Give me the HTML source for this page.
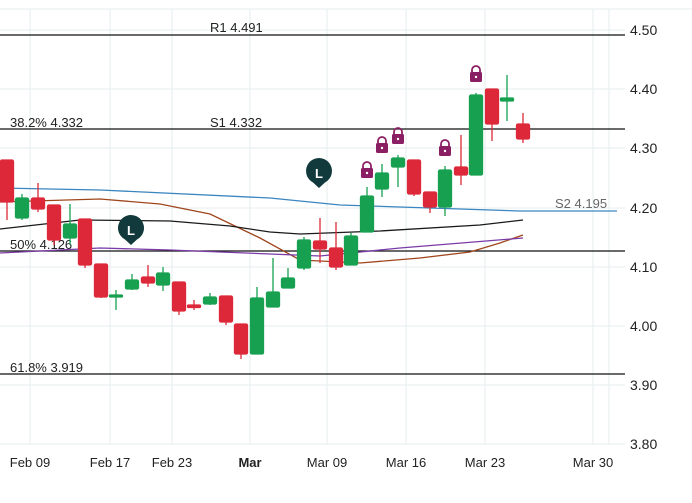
<!DOCTYPE html><html><head><style>body{margin:0;background:#fff}svg{display:block;font-family:"Liberation Sans",sans-serif}</style></head><body>
<svg width="692" height="503" viewBox="0 0 692 503">
<line x1="0" y1="9" x2="692" y2="9" stroke="#e6eeee"/>
<g stroke="#e4eeee" stroke-width="1">
<line x1="0" y1="30" x2="625" y2="30"/><line x1="0" y1="89" x2="625" y2="89"/><line x1="0" y1="148" x2="625" y2="148"/><line x1="0" y1="208" x2="625" y2="208"/><line x1="0" y1="267" x2="625" y2="267"/><line x1="0" y1="326" x2="625" y2="326"/><line x1="0" y1="385" x2="625" y2="385"/><line x1="0" y1="444" x2="625" y2="444"/>
<line x1="30" y1="9" x2="30" y2="444"/><line x1="110" y1="9" x2="110" y2="444"/><line x1="172" y1="9" x2="172" y2="444"/><line x1="250" y1="9" x2="250" y2="444"/><line x1="327" y1="9" x2="327" y2="444"/><line x1="406" y1="9" x2="406" y2="444"/><line x1="485" y1="9" x2="485" y2="444"/><line x1="593" y1="9" x2="593" y2="444"/><line x1="609" y1="9" x2="609" y2="444"/>
</g>
<g stroke="#111" stroke-width="1.2"><line x1="0" y1="35" x2="625" y2="35"/><line x1="0" y1="129" x2="625" y2="129"/><line x1="0" y1="251" x2="625" y2="251"/><line x1="0" y1="374" x2="625" y2="374"/></g>
<g font-size="13" fill="#222"><text x="210" y="32">R1 4.491</text><text x="10" y="127">38.2% 4.332</text><text x="210" y="127">S1 4.332</text><text x="10" y="249">50% 4.126</text><text x="10" y="372">61.8% 3.919</text></g>
<text x="555" y="208" font-size="13" fill="#666">S2 4.195</text>
<g fill="none" stroke-width="1.3">
<polyline stroke="#3a86c0" points="0,188 100,190 270,198 340,205 430,208 520,211 617,211"/>
<polyline stroke="#a0461c" points="0,202 100,199 160,204 210,214 260,238 300,260 360,263 420,258 470,252 500,243 523,235"/>
<polyline stroke="#1a1a1a" points="0,229 80,220 170,221 230,226 270,232 300,234 380,231 480,225 523,220"/>
<polyline stroke="#7a3aa8" points="0,253 100,248 170,250 270,254 320,256 400,248 523,238"/>
</g>
<g stroke-width="1.3">
<g stroke="#dc2839" fill="#dc2839">
<line x1="7" x2="7" y1="160" y2="220"/><rect x="0.5" y="160" width="13" height="42" rx="1.5"/>
<line x1="38" x2="38" y1="183" y2="212"/><rect x="31.5" y="198" width="13" height="11" rx="1.5"/>
<line x1="54" x2="54" y1="205" y2="245"/><rect x="47.5" y="205" width="13" height="35" rx="1.5"/>
<line x1="85" x2="85" y1="219" y2="268"/><rect x="78.5" y="219" width="13" height="46" rx="1.5"/>
<line x1="101" x2="101" y1="264" y2="298"/><rect x="94.5" y="264" width="13" height="33" rx="1.5"/>
<line x1="148" x2="148" y1="265" y2="287"/><rect x="141.5" y="277" width="13" height="6" rx="1.5"/>
<line x1="179" x2="179" y1="282" y2="315"/><rect x="172.5" y="282" width="13" height="29" rx="1.5"/>
<line x1="194" x2="194" y1="300" y2="310"/><rect x="187.5" y="305" width="13" height="2.5" rx="1"/>
<line x1="226" x2="226" y1="296" y2="325"/><rect x="219.5" y="296" width="13" height="26" rx="1.5"/>
<line x1="241" x2="241" y1="324" y2="359"/><rect x="234.5" y="324" width="13" height="30" rx="1.5"/>
<line x1="320" x2="320" y1="218" y2="263"/><rect x="313.5" y="241" width="13" height="8" rx="1.5"/>
<line x1="336" x2="336" y1="222" y2="270"/><rect x="329.5" y="248" width="13" height="19" rx="1.5"/>
<line x1="414" x2="414" y1="160" y2="196"/><rect x="407.5" y="160" width="13" height="34" rx="1.5"/>
<line x1="430" x2="430" y1="192" y2="213"/><rect x="423.5" y="192" width="13" height="15" rx="1.5"/>
<line x1="461" x2="461" y1="135" y2="185"/><rect x="454.5" y="167" width="13" height="8" rx="1.5"/>
<line x1="492" x2="492" y1="89" y2="141"/><rect x="485.5" y="89" width="13" height="35" rx="1.5"/>
<line x1="523" x2="523" y1="113" y2="143"/><rect x="516.5" y="124" width="13" height="15" rx="1.5"/>
</g>
<g stroke="#16a050" fill="#16a050">
<line x1="22" x2="22" y1="194" y2="220"/><rect x="15.5" y="198" width="13" height="20" rx="1.5"/>
<line x1="70" x2="70" y1="204" y2="245"/><rect x="63.5" y="224" width="13" height="14" rx="1.5"/>
<line x1="116" x2="116" y1="290" y2="310"/><rect x="109.5" y="295" width="13" height="2" rx="1"/>
<line x1="132" x2="132" y1="274" y2="290"/><rect x="125.5" y="280" width="13" height="9" rx="1.5"/>
<line x1="163" x2="163" y1="267" y2="291"/><rect x="156.5" y="273" width="13" height="12" rx="1.5"/>
<line x1="210" x2="210" y1="293" y2="305"/><rect x="203.5" y="297" width="13" height="7" rx="1.5"/>
<line x1="257" x2="257" y1="287" y2="354"/><rect x="250.5" y="298" width="13" height="56" rx="1.5"/>
<line x1="273" x2="273" y1="258" y2="307"/><rect x="266.5" y="292" width="13" height="15" rx="1.5"/>
<line x1="288" x2="288" y1="268" y2="288"/><rect x="281.5" y="278" width="13" height="10" rx="1.5"/>
<line x1="304" x2="304" y1="237" y2="270"/><rect x="297.5" y="240" width="13" height="28" rx="1.5"/>
<line x1="351" x2="351" y1="233" y2="265"/><rect x="344.5" y="236" width="13" height="29" rx="1.5"/>
<line x1="367" x2="367" y1="187" y2="232"/><rect x="360.5" y="196" width="13" height="36" rx="1.5"/>
<line x1="382" x2="382" y1="164" y2="197"/><rect x="375.5" y="173" width="13" height="16" rx="1.5"/>
<line x1="398" x2="398" y1="155" y2="187"/><rect x="391.5" y="158" width="13" height="9" rx="1.5"/>
<line x1="445" x2="445" y1="166" y2="216"/><rect x="438.5" y="170" width="13" height="37" rx="1.5"/>
<line x1="476" x2="476" y1="93" y2="175"/><rect x="469.5" y="95" width="13" height="80" rx="1.5"/>
<line x1="507" x2="507" y1="75" y2="121"/><rect x="500.5" y="98" width="13" height="3" rx="1"/>
</g>
</g>
<g fill="#8a1f63">
<path d="M363 168v-2a4 4 0 0 1 8 0v2" fill="none" stroke="#8a1f63" stroke-width="1.8"/><rect x="361" y="168" width="12" height="10" rx="1.5"/>
<path d="M378 143v-2a4 4 0 0 1 8 0v2" fill="none" stroke="#8a1f63" stroke-width="1.8"/><rect x="376" y="143" width="12" height="10" rx="1.5"/>
<path d="M394 134v-2a4 4 0 0 1 8 0v2" fill="none" stroke="#8a1f63" stroke-width="1.8"/><rect x="392" y="134" width="12" height="10" rx="1.5"/>
<path d="M441 146v-2a4 4 0 0 1 8 0v2" fill="none" stroke="#8a1f63" stroke-width="1.8"/><rect x="439" y="146" width="12" height="10" rx="1.5"/>
<path d="M472 72v-2a4 4 0 0 1 8 0v2" fill="none" stroke="#8a1f63" stroke-width="1.8"/><rect x="470" y="72" width="12" height="10" rx="1.5"/>
</g>
<g fill="#fff"><circle cx="367" cy="173" r="1.2"/><circle cx="382" cy="148" r="1.2"/><circle cx="398" cy="139" r="1.2"/><circle cx="445" cy="151" r="1.2"/><circle cx="476" cy="77" r="1.2"/></g>
<g fill="#123a3c"><path d="M131 245l-6-5.5a13 13 0 1 1 12 0z"/><path d="M319 188l-6-5.5a13 13 0 1 1 12 0z"/></g>
<g font-size="13" font-weight="bold" fill="#fff" text-anchor="middle"><text x="131" y="235">L</text><text x="319" y="178">L</text></g>
<g font-size="14" fill="#222"><text x="630" y="35">4.50</text><text x="630" y="94">4.40</text><text x="630" y="153">4.30</text><text x="630" y="213">4.20</text><text x="630" y="272">4.10</text><text x="630" y="331">4.00</text><text x="630" y="390">3.90</text><text x="630" y="449">3.80</text></g>
<g font-size="13" fill="#222" text-anchor="middle"><text x="30" y="467">Feb 09</text><text x="110" y="467">Feb 17</text><text x="172" y="467">Feb 23</text><text x="250" y="467" font-weight="bold">Mar</text><text x="327" y="467">Mar 09</text><text x="406" y="467">Mar 16</text><text x="485" y="467">Mar 23</text><text x="593" y="467">Mar 30</text></g>
</svg></body></html>
